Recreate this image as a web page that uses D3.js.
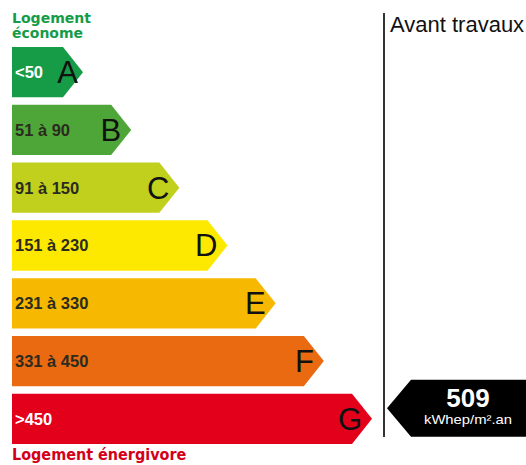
<!DOCTYPE html>
<html>
<head>
<meta charset="utf-8">
<script src="https://cdn.jsdelivr.net/npm/d3@7"></script>
<style>
  body { margin: 0; background: #fff; }
  svg { display: block; }
</style>
</head>
<body>
<div id="chart"></div>
<script>
// Data
const classes = ["A", "B", "C", "D", "E", "F", "G"];
const ranges = ["<50", "51 à 90", "91 à 150", "151 à 230", "231 à 330", "331 à 450", ">450"];
const classColors = ["#169b47", "#4fa638", "#c0d01c", "#fde900", "#f6b800", "#ea6a12", "#e2001a"];
const labelColors = ["#fff", "#2b2b1f", "#2b2b1f", "#2b2b1f", "#2b2b1f", "#2b2b1f", "#fff"];
const currentValue = 509;
const currentClass = "G";
const unitLabel = "kWhep/m².an";

function drawLabel() {
  const width = 526, height = 465;

  const svg = d3.select("#chart")
    .append("svg")
    .attr("width", width)
    .attr("height", height);

  // scales
  const y = d3.scaleBand()
    .domain(classes)
    .range([47, 444])
    .paddingInner(0.13)
    .paddingOuter(0);

  const tipX = d3.scaleLinear()
    .domain([0, classes.length - 1])
    .range([83, 372]);

  const x0 = 12;
  const tipW = 20;
  const bh = y.bandwidth();

  // header / footer
  const header = svg.append("text")
    .attr("x", x0)
    .attr("fill", "#169b47")
    .attr("font-family", "'DejaVu Sans Condensed', 'DejaVu Sans', sans-serif")
    .attr("font-weight", "bold")
    .attr("font-size", 14);
  header.append("tspan").attr("x", x0).attr("y", 23)
    .attr("textLength", 79).attr("lengthAdjust", "spacingAndGlyphs")
    .text("Logement");
  header.append("tspan").attr("x", x0).attr("y", 38)
    .attr("textLength", 71).attr("lengthAdjust", "spacingAndGlyphs")
    .text("économe");

  svg.append("text")
    .attr("x", x0)
    .attr("y", 460)
    .attr("fill", "#d4001a")
    .attr("font-family", "'DejaVu Sans Condensed', 'DejaVu Sans', sans-serif")
    .attr("font-weight", "bold")
    .attr("font-size", 16)
    .text("Logement énergivore");

  // bars
  const rows = svg.selectAll(".row")
    .data(classes)
    .enter().append("g")
    .attr("class", "row")
    .attr("transform", d => `translate(0,${y(d)})`);

  rows.append("path")
    .attr("d", (d, i) => {
      const t = tipX(i);
      return `M${x0},0 L${t - tipW},0 L${t},${bh / 2} L${t - tipW},${bh} L${x0},${bh} Z`;
    })
    .attr("fill", (d, i) => classColors[i]);

  rows.append("text")
    .attr("x", 15)
    .attr("y", bh / 2 + 6)
    .attr("fill", (d, i) => labelColors[i])
    .attr("font-family", "'Liberation Sans', Arial, sans-serif")
    .attr("font-weight", "bold")
    .attr("font-size", 16.5)
    .text((d, i) => ranges[i]);

  rows.append("text")
    .attr("x", (d, i) => tipX(i) - (i === 0 ? 5 : 10))
    .attr("y", bh / 2 + 11)
    .attr("text-anchor", "end")
    .attr("fill", "#111")
    .attr("font-family", "'Liberation Sans', Arial, sans-serif")
    .attr("font-size", 31)
    .text(d => d);

  // divider
  svg.append("line")
    .attr("x1", 384).attr("x2", 384)
    .attr("y1", 13).attr("y2", 437)
    .attr("stroke", "#333")
    .attr("stroke-width", 2);

  svg.append("text")
    .attr("x", 390)
    .attr("y", 32)
    .attr("fill", "#111")
    .attr("font-family", "'Liberation Sans', Arial, sans-serif")
    .attr("font-size", 22)
    .text("Avant travaux");

  // value marker
  const my = y(currentClass) - 14;
  const mh = 57;
  const marker = svg.append("g").attr("transform", `translate(387,${my})`);
  marker.append("path")
    .attr("d", `M0,${mh / 2} L24,0 L${width},0 L${width},${mh} L24,${mh} Z`)
    .attr("fill", "#000");
  marker.append("text")
    .attr("x", 81)
    .attr("y", 27)
    .attr("text-anchor", "middle")
    .attr("fill", "#fff")
    .attr("font-family", "'Liberation Sans', Arial, sans-serif")
    .attr("font-weight", "bold")
    .attr("font-size", 26)
    .text(currentValue);
  marker.append("text")
    .attr("x", 81)
    .attr("y", 44)
    .attr("text-anchor", "middle")
    .attr("fill", "#fff")
    .attr("font-family", "'Liberation Sans', Arial, sans-serif")
    .attr("font-size", 13)
    .attr("textLength", 88)
    .attr("lengthAdjust", "spacingAndGlyphs")
    .text(unitLabel);
}

drawLabel();
</script>
</body>
</html>
